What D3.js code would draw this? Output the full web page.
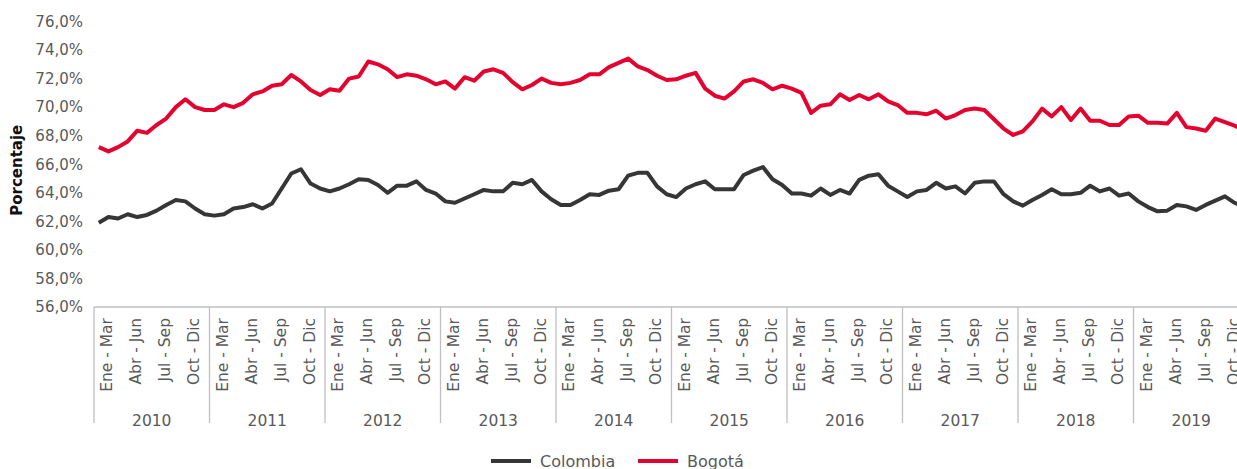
<!DOCTYPE html>
<html>
<head>
<meta charset="utf-8">
<script src="https://cdn.jsdelivr.net/npm/d3@7"></script>
<style>
  body { margin: 0; background: #fff; overflow: hidden; }
  svg { display: block; }
</style>
</head>
<body>
<div id="chart"></div>
<script>
// years and quarter labels of the category axis
var years = ["2010", "2011", "2012", "2013", "2014", "2015", "2016", "2017", "2018", "2019"];
var quarters = ["Ene - Mar", "Abr - Jun", "Jul - Sep", "Oct - Dic"];
var yTicks = [56, 58, 60, 62, 64, 66, 68, 70, 72, 74, 76];

// rolling quarters, one value per month (12 per year)
var colombia = [
  61.9, 62.3, 62.2, 62.5, 62.3, 62.45, 62.75, 63.15, 63.5, 63.4, 62.9, 62.5,
  62.4, 62.5, 62.9, 63.0, 63.2, 62.9, 63.25, 64.3, 65.35, 65.65, 64.65, 64.3,
  64.1, 64.3, 64.6, 64.95, 64.9, 64.55, 64.0, 64.5, 64.5, 64.8, 64.2, 63.95,
  63.4, 63.3, 63.6, 63.9, 64.2, 64.1, 64.1, 64.7, 64.6, 64.9, 64.1, 63.55,
  63.15, 63.15, 63.5, 63.9, 63.85, 64.15, 64.25, 65.2, 65.4, 65.4, 64.45, 63.9,
  63.7, 64.3, 64.6, 64.8, 64.25, 64.25, 64.25, 65.25, 65.55, 65.8, 64.95, 64.55,
  63.95, 63.95, 63.8, 64.3, 63.85, 64.2, 63.95, 64.9, 65.2, 65.3, 64.5, 64.1,
  63.7, 64.1, 64.2, 64.7, 64.3, 64.45, 63.95, 64.7, 64.8, 64.8, 63.9, 63.4,
  63.1, 63.5, 63.85, 64.25, 63.9, 63.9, 64.0, 64.5, 64.1, 64.3, 63.8, 63.95,
  63.4, 63.0, 62.7, 62.75, 63.15, 63.05, 62.8, 63.15, 63.45, 63.75, 63.3, 63.0
];
var bogota = [
  67.2, 66.9, 67.2, 67.6, 68.35, 68.2, 68.75, 69.2, 70.0, 70.55, 70.0, 69.8,
  69.8, 70.2, 70.0, 70.3, 70.9, 71.1, 71.5, 71.6, 72.25, 71.8, 71.2, 70.85,
  71.25, 71.15, 72.0, 72.15, 73.2, 73.0, 72.65, 72.1, 72.3, 72.2, 71.95, 71.6,
  71.8, 71.3, 72.1, 71.85, 72.5, 72.65, 72.4, 71.75, 71.25, 71.55, 72.0, 71.7,
  71.6, 71.7, 71.9, 72.3, 72.3, 72.8, 73.1, 73.4, 72.85, 72.6, 72.2, 71.9,
  71.95, 72.2, 72.4, 71.3, 70.8, 70.6, 71.1, 71.8, 71.95, 71.7, 71.25, 71.5,
  71.3, 71.0, 69.6, 70.1, 70.2, 70.9, 70.5, 70.85, 70.55, 70.9, 70.4, 70.15,
  69.6, 69.6, 69.5, 69.75, 69.2, 69.45, 69.8, 69.9, 69.8, 69.15, 68.5, 68.05,
  68.3, 69.0, 69.9, 69.35, 70.0, 69.1, 69.9, 69.05, 69.05, 68.75, 68.75, 69.35,
  69.4, 68.9, 68.9, 68.85, 69.6, 68.6, 68.5, 68.35, 69.2, 68.95, 68.7, 68.4
];

var series = [
  { name: "Colombia", values: colombia, color: "#363636" },
  { name: "Bogotá", values: bogota, color: "#e3032e" }
];

var W = 1237, H = 469;
var plotLeft = 94, plotRight = 1249, plotTop = 21.5, plotBottom = 307;
var font = "'DejaVu Sans', sans-serif";

var svg = d3.select("#chart")
  .append("svg")
  .attr("width", W)
  .attr("height", H);

// one band per month, per quarter and per year
var months = d3.range(years.length * 12);
var x = d3.scaleBand().domain(months).range([plotLeft, plotRight]);
var xq = d3.scaleBand().domain(d3.range(years.length * 4)).range([plotLeft, plotRight]);
var xy = d3.scaleBand().domain(years).range([plotLeft, plotRight]);

var y = d3.scaleLinear().domain([56, 76]).range([plotBottom, plotTop]);

var fmt = d3.format(".1f");

// Y axis
var yAxis = svg.append("g")
  .attr("transform", "translate(" + (plotLeft - 11) + ",0)")
  .call(d3.axisLeft(y).tickValues(yTicks).tickSize(0)
    .tickFormat(function (d) { return fmt(d).replace(".", ",") + "%"; }));
yAxis.select(".domain").remove();
yAxis.selectAll("text")
  .attr("x", 0)
  .style("font-family", font)
  .style("font-size", "15px")
  .attr("fill", "#595959");

svg.append("text")
  .attr("transform", "translate(22," + ((plotTop + plotBottom) / 2 + 6) + ") rotate(-90)")
  .attr("text-anchor", "middle")
  .style("font-family", font)
  .style("font-size", "15px")
  .style("font-weight", "bold")
  .attr("fill", "#111")
  .text("Porcentaje");

// category axis line and year separators
svg.append("line")
  .attr("x1", plotLeft).attr("x2", W)
  .attr("y1", plotBottom).attr("y2", plotBottom)
  .attr("stroke", "#bfbfbf").attr("stroke-width", 1.3);

svg.selectAll(".sep")
  .data(years)
  .enter()
  .append("line")
  .attr("class", "sep")
  .attr("x1", function (d) { return xy(d); })
  .attr("x2", function (d) { return xy(d); })
  .attr("y1", plotBottom)
  .attr("y2", 423)
  .attr("stroke", "#bfbfbf").attr("stroke-width", 1.3);

// quarter labels
svg.selectAll(".qlab")
  .data(xq.domain())
  .enter()
  .append("text")
  .attr("class", "qlab")
  .attr("transform", function (d) {
    return "translate(" + (xq(d) + xq.bandwidth() / 2 - 1.5) + "," + (plotBottom + 11) + ") rotate(-90)";
  })
  .attr("dy", "0.35em")
  .attr("text-anchor", "end")
  .style("font-family", font)
  .style("font-size", "15.5px")
  .attr("fill", "#595959")
  .text(function (d) { return quarters[d % 4]; });

// year labels
svg.selectAll(".ylab")
  .data(years)
  .enter()
  .append("text")
  .attr("class", "ylab")
  .attr("x", function (d) { return xy(d) + xy.bandwidth() / 2; })
  .attr("y", 426)
  .attr("text-anchor", "middle")
  .style("font-family", font)
  .style("font-size", "15.5px")
  .attr("fill", "#595959")
  .text(function (d) { return d; });

// lines
var line = d3.line()
  .x(function (d, i) { return x(i) + x.bandwidth() / 2; })
  .y(function (d) { return y(d); });

svg.selectAll(".serie")
  .data(series)
  .enter()
  .append("path")
  .attr("class", "serie")
  .attr("d", function (d) { return line(d.values); })
  .attr("fill", "none")
  .attr("stroke", function (d) { return d.color; })
  .attr("stroke-width", 4)
  .attr("stroke-linejoin", "round");

// legend
var legend = svg.selectAll(".leg")
  .data(series)
  .enter()
  .append("g")
  .attr("class", "leg")
  .attr("transform", function (d, i) { return "translate(" + (491 + i * 147) + ",461)"; });

legend.append("line")
  .attr("x1", 0).attr("x2", 40)
  .attr("stroke", function (d) { return d.color; })
  .attr("stroke-width", 4);

legend.append("text")
  .attr("x", 49)
  .attr("dy", "0.35em")
  .style("font-family", font)
  .style("font-size", "16px")
  .attr("fill", "#595959")
  .text(function (d) { return d.name; });
</script>
</body>
</html>
